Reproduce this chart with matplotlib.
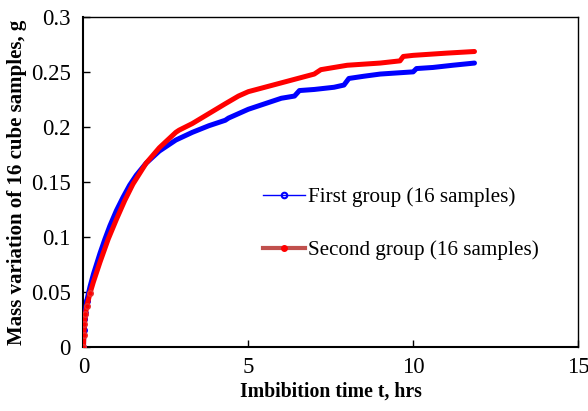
import matplotlib
matplotlib.use("Agg")
import matplotlib.pyplot as plt
from matplotlib.lines import Line2D

plt.rcParams["font.family"] = ["Liberation Serif", "DejaVu Serif"]

# First group (16 samples)
t_first = [0, 0.01, 0.03, 0.05, 0.1, 0.2, 0.3, 0.5, 0.65, 0.8, 1.0, 1.2, 1.4, 1.6,
           1.9, 2.3, 2.8, 3.3, 3.8, 4.3, 4.4, 5.0, 5.5, 6.0, 6.4, 6.55, 7.0, 7.6,
           7.9, 8.05, 8.5, 9.0, 9.5, 10.0, 10.1, 10.6, 11.2, 11.86]
m_first = [0, 0.015, 0.025, 0.031, 0.042, 0.055, 0.066, 0.085, 0.098, 0.110, 0.124,
           0.136, 0.147, 0.156, 0.167, 0.178, 0.188, 0.195, 0.201, 0.206, 0.208,
           0.216, 0.221, 0.226, 0.228, 0.233, 0.234, 0.236, 0.238, 0.244, 0.246,
           0.248, 0.249, 0.250, 0.253, 0.254, 0.256, 0.258]

# Second group (16 samples)
t_second = [0, 0.01, 0.03, 0.06, 0.1, 0.2, 0.3, 0.5, 0.75, 1.0, 1.25, 1.5, 1.9, 2.3,
            2.8, 2.9, 3.3, 3.8, 4.3, 4.7, 5.0, 5.5, 6.0, 6.5, 7.0, 7.2, 7.6, 8.0,
            8.5, 9.0, 9.6, 9.7, 10.0, 10.5, 11.0, 11.86]
m_second = [0, 0.011, 0.021, 0.030, 0.037, 0.049, 0.059, 0.077, 0.098, 0.116, 0.133,
            0.148, 0.167, 0.181, 0.195, 0.197, 0.203, 0.212, 0.221, 0.228, 0.232,
            0.236, 0.240, 0.244, 0.248, 0.252, 0.254, 0.256, 0.257, 0.258, 0.260,
            0.264, 0.265, 0.266, 0.267, 0.2685]

fig = plt.figure(figsize=(5.88, 4.11), dpi=100)
ax = fig.add_axes([0.142, 0.156, 0.841, 0.803])

ax.plot(t_first, m_first, color="#0000ff", lw=3.6, marker="o", markersize=4,
        markevery=slice(0, 5), solid_capstyle="round", solid_joinstyle="round",
        zorder=3)
ax.plot(t_second, m_second, color="#ff0000", lw=3.6, marker="o", markersize=4,
        markevery=slice(0, 6), markeredgecolor="#e83030", solid_capstyle="round",
        solid_joinstyle="round", zorder=4)

ax.set_xlim(0, 15)
ax.set_ylim(0, 0.3)
ax.set_xticks([0, 5, 10, 15])
ax.set_yticks([0, 0.05, 0.1, 0.15, 0.2, 0.25, 0.3])
ax.set_yticklabels(["0", "0.05", "0.1", "0.15", "0.2", "0.25", "0.3"])
ax.tick_params(direction="in", length=5, width=1, labelsize=16.5, pad=9)
ax.tick_params(axis="x", pad=7)
ax.spines["left"].set_linewidth(1.5)
ax.spines["bottom"].set_linewidth(1.5)
ax.spines["top"].set_linewidth(1)
ax.spines["right"].set_linewidth(1)

ax.set_xlabel("Imbibition time t, hrs", fontsize=14.2, fontweight="bold", labelpad=3)
ax.set_ylabel("Mass variation of 16 cube samples, g", fontsize=15.0,
              fontweight="bold", labelpad=3)

handles = [
    Line2D([], [], color="#0000ff", lw=1, marker="o", markersize=4,
           markerfacecolor="none", markeredgecolor="#0000ff", markeredgewidth=1.5),
    Line2D([], [], color="#c0504d", lw=3, marker="o", markersize=4,
           markerfacecolor="#ff0000", markeredgecolor="#ff0000"),
]
ax.legend(handles, ["First group (16 samples)", "Second group (16 samples)"],
          loc="upper left", bbox_to_anchor=(0.325, 0.54), frameon=False,
          fontsize=15.2, handlelength=2.0, handletextpad=0.1, labelspacing=1.55)

fig.savefig("out.png", dpi=100)
